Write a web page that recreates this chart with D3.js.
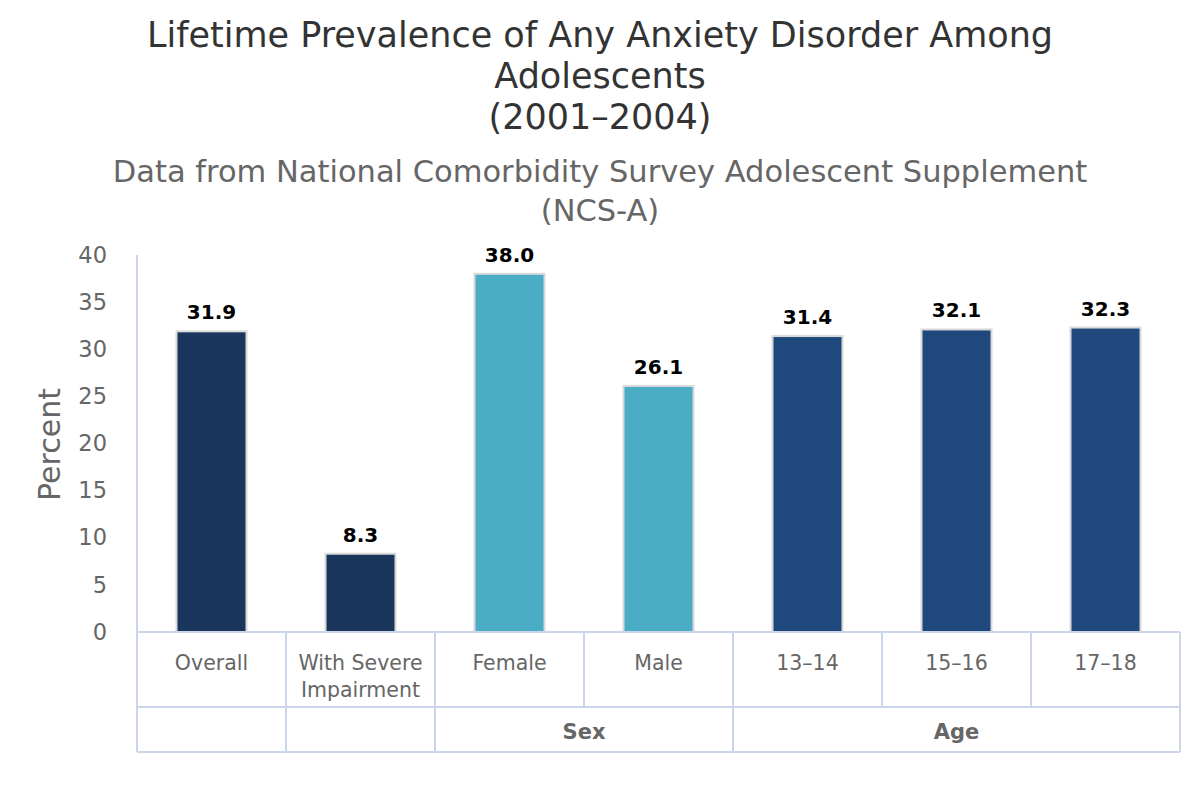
<!DOCTYPE html>
<html><head><meta charset="utf-8">
<script src="https://cdn.jsdelivr.net/npm/d3@7"></script>
<style>body{margin:0;background:#fff}svg{display:block}</style>
</head><body>
<svg id="c" width="1200" height="800"></svg>
<script>
const categories = ["Overall", "With Severe|Impairment", "Female", "Male", "13–14", "15–16", "17–18"];
const values = [31.9, 8.3, 38.0, 26.1, 31.4, 32.1, 32.3];
const groups = ["", "", "Sex", "Sex", "Age", "Age", "Age"];
const groupColors = {"": "#1b365d", "Sex": "#4bacc6", "Age": "#1f497d"};
const yTicks = [0, 5, 10, 15, 20, 25, 30, 35, 40];
const titleLines = ["Lifetime Prevalence of Any Anxiety Disorder Among", "Adolescents", "(2001–2004)"];
const subtitleLines = ["Data from National Comorbidity Survey Adolescent Supplement", "(NCS-A)"];

const svg = d3.select("#c");
const font = "'DejaVu Sans', sans-serif";
const L = 137, R = 1180, T = 255, B = 632, row1 = 707, row2 = 752;
const x = d3.scaleBand().domain(d3.range(categories.length)).range([L, R]).paddingInner(0).paddingOuter(0);
const y = d3.scaleLinear().domain([0, 40]).range([B, T]);
const bw = 70;

// titles
svg.append("g").selectAll("text").data(titleLines).join("text")
  .attr("x", 600).attr("y", (d, i) => 47 + i * 41)
  .attr("text-anchor", "middle").attr("font-family", font).attr("font-size", 35)
  .attr("fill", "#333").text(d => d);
svg.append("g").selectAll("text").data(subtitleLines).join("text")
  .attr("x", 600).attr("y", (d, i) => 182 + i * 39)
  .attr("text-anchor", "middle").attr("font-family", font).attr("font-size", 30.5)
  .attr("fill", "#666").text(d => d);

// y axis ticks
const yAxis = d3.axisLeft(y).tickValues(yTicks).tickSize(0).tickPadding(30);
const ya = svg.append("g").attr("transform", `translate(${L},0)`).call(yAxis);
ya.select(".domain").remove();
ya.selectAll("text").attr("font-family", font).attr("font-size", 22.5).attr("fill", "#666");

svg.append("text").attr("transform", `translate(60,${(T + B) / 2 + 1}) rotate(-90)`)
  .attr("text-anchor", "middle").attr("font-family", font).attr("font-size", 30)
  .attr("fill", "#666").text("Percent");

// bars
svg.append("g").selectAll("rect").data(values).join("rect")
  .attr("x", (d, i) => x(i) + (x.bandwidth() - bw) / 2)
  .attr("y", d => y(d))
  .attr("width", bw).attr("height", d => y(0) - y(d))
  .attr("fill", (d, i) => groupColors[groups[i]])
  .attr("stroke", "#d9d9d9").attr("stroke-width", 2);

// data labels
svg.append("g").selectAll("text").data(values).join("text")
  .attr("x", (d, i) => x(i) + x.bandwidth() / 2)
  .attr("y", d => y(d) - 12)
  .attr("text-anchor", "middle").attr("font-family", font).attr("font-size", 20)
  .attr("font-weight", "bold").attr("fill", "#000").text(d => d.toFixed(1));

// table grid
const gridColor = "#ccd6eb";
const grid = svg.append("g").attr("stroke", gridColor).attr("stroke-width", 2).attr("fill", "none");
grid.append("line").attr("x1", L).attr("x2", L).attr("y1", T).attr("y2", row2);
grid.append("line").attr("x1", L).attr("x2", R).attr("y1", B).attr("y2", B);
grid.append("line").attr("x1", L).attr("x2", R).attr("y1", row1).attr("y2", row1);
grid.append("line").attr("x1", L).attr("x2", R).attr("y1", row2).attr("y2", row2);
grid.append("line").attr("x1", R).attr("x2", R).attr("y1", B).attr("y2", row2);
grid.selectAll(".cd").data(d3.range(1, categories.length)).join("line")
  .attr("x1", i => x(i)).attr("x2", i => x(i)).attr("y1", B).attr("y2", row1);
const spans = [];
categories.forEach((c, i) => {
  const g = groups[i];
  const last = spans[spans.length - 1];
  if (g !== "" && last && last.g === g) last.end = i;
  else spans.push({g, start: i, end: i});
});
grid.selectAll(".gd").data(spans.slice(1)).join("line")
  .attr("x1", s => x(s.start)).attr("x2", s => x(s.start)).attr("y1", row1).attr("y2", row2);

// category labels
const cl = svg.append("g").selectAll("text").data(categories).join("text")
  .attr("text-anchor", "middle").attr("font-family", font).attr("font-size", 20.5).attr("fill", "#666");
cl.each(function(d, i) {
  const lines = d.split("|");
  d3.select(this).selectAll("tspan").data(lines).join("tspan")
    .attr("x", x(i) + x.bandwidth() / 2).attr("y", (t, j) => 670 + j * 27).text(t => t);
});
// group labels
svg.append("g").selectAll("text").data(spans.filter(s => s.g)).join("text")
  .attr("x", s => (x(s.start) + x(s.end) + x.bandwidth()) / 2).attr("y", 739)
  .attr("text-anchor", "middle").attr("font-family", font).attr("font-size", 21)
  .attr("font-weight", "bold").attr("fill", "#666").text(s => s.g);
</script>
</body></html>
